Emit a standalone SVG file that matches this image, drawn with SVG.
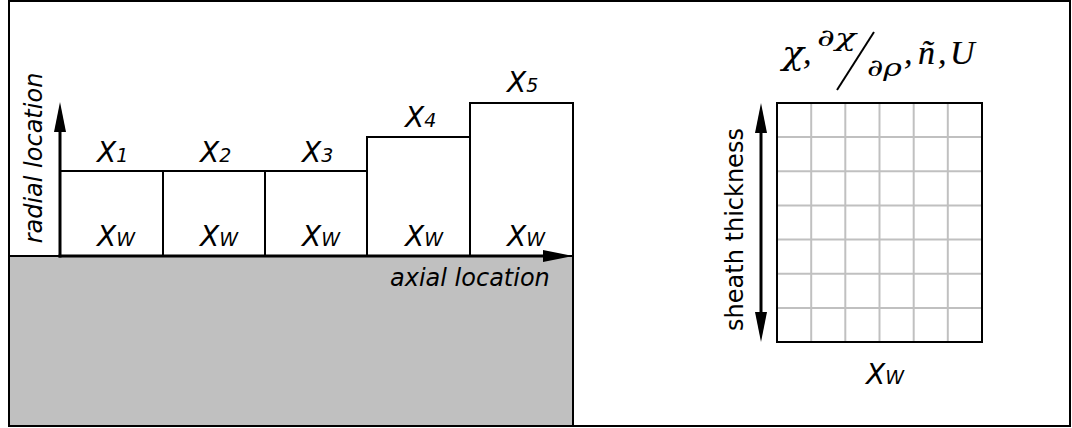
<svg xmlns="http://www.w3.org/2000/svg" width="1072" height="428" viewBox="0 0 1072 428">
<style>
.box{fill:#fff;stroke:#000;stroke-width:2}
.axis{stroke:#000;stroke-width:3;fill:none}
.grid{stroke:#c0c0c0;stroke-width:2}
.lbl{font-family:"DejaVu Sans",Verdana,sans-serif;font-size:24px;fill:#000}
.it{font-style:italic}
.x{font-size:28px}
.sub{font-size:19px}
.math{font-family:"Liberation Serif","Times New Roman",serif;font-style:italic;fill:#000;stroke:#000;stroke-width:0.2}
.gr{font-family:"DejaVu Serif","Liberation Serif",serif;font-style:italic;fill:#000}
</style>
<defs>
<marker id="ah" markerUnits="userSpaceOnUse" markerWidth="30" markerHeight="12" viewBox="0 0 30 12" refX="2" refY="6" orient="auto-start-reverse">
<path d="M0,0 L30,6 L0,12 z" fill="#000"/>
</marker>
</defs>
<rect x="9" y="1" width="1061" height="425" fill="#fff" stroke="#000" stroke-width="2"/>
<g id="ground">
<rect x="9" y="256" width="564" height="170" fill="#c0c0c0" stroke="#000" stroke-width="2"/>
</g>
<g id="box1"><rect class="box" x="60" y="171" width="103" height="85"/>
<text class="lbl it x" x="97" y="162">X<tspan class="sub">1</tspan></text>
<text class="lbl it x" x="97" y="246">X<tspan class="sub">W</tspan></text></g>
<g id="box2"><rect class="box" x="163" y="171" width="102" height="85"/>
<text class="lbl it x" x="200" y="162">X<tspan class="sub">2</tspan></text>
<text class="lbl it x" x="200" y="246">X<tspan class="sub">W</tspan></text></g>
<g id="box3"><rect class="box" x="265" y="171" width="102" height="85"/>
<text class="lbl it x" x="302" y="162">X<tspan class="sub">3</tspan></text>
<text class="lbl it x" x="302" y="246">X<tspan class="sub">W</tspan></text></g>
<g id="box4"><rect class="box" x="367" y="137" width="103" height="119"/>
<text class="lbl it x" x="405" y="127">X<tspan class="sub">4</tspan></text>
<text class="lbl it x" x="405" y="246">X<tspan class="sub">W</tspan></text></g>
<g id="box5"><rect class="box" x="470" y="103" width="103" height="153"/>
<text class="lbl it x" x="507" y="92">X<tspan class="sub">5</tspan></text>
<text class="lbl it x" x="507" y="246">X<tspan class="sub">W</tspan></text></g>
<g id="connectors">
<line class="axis" x1="60" y1="257.5" x2="60" y2="130" marker-end="url(#ah)"/>
<line class="axis" x1="58.5" y1="256" x2="545" y2="256" marker-end="url(#ah)"/>
<line class="axis" x1="761" y1="131" x2="761" y2="314" marker-start="url(#ah)" marker-end="url(#ah)"/>
</g>
<g id="axis-labels">
<text class="lbl it" transform="translate(42,158) rotate(-90)" text-anchor="middle">radial location</text>
<text class="lbl it" x="390" y="286">axial location</text>
<text class="lbl" transform="translate(743,229.5) rotate(-90)" text-anchor="middle">sheath thickness</text>
</g>
<g id="sheath-grid">
<g class="grid">
<line x1="811.2" y1="103" x2="811.2" y2="342"/>
<line x1="845.3" y1="103" x2="845.3" y2="342"/>
<line x1="879.5" y1="103" x2="879.5" y2="342"/>
<line x1="913.7" y1="103" x2="913.7" y2="342"/>
<line x1="947.8" y1="103" x2="947.8" y2="342"/>
<line x1="777" y1="137.1" x2="982" y2="137.1"/>
<line x1="777" y1="171.3" x2="982" y2="171.3"/>
<line x1="777" y1="205.4" x2="982" y2="205.4"/>
<line x1="777" y1="239.6" x2="982" y2="239.6"/>
<line x1="777" y1="273.7" x2="982" y2="273.7"/>
<line x1="777" y1="307.9" x2="982" y2="307.9"/>
</g>
<rect x="777" y="103" width="205" height="239" fill="none" stroke="#000" stroke-width="2"/>
<text class="lbl it x" x="866" y="384">X<tspan class="sub">W</tspan></text>
</g>
<g id="title">
<text class="gr" x="782" y="64" font-size="32" textLength="22" lengthAdjust="spacingAndGlyphs">χ</text>
<text class="math" x="803" y="64" font-size="34">,</text>
<text class="gr" x="817" y="46" font-size="24" textLength="39" lengthAdjust="spacingAndGlyphs">∂χ</text>
<line x1="837" y1="90" x2="874" y2="32" stroke="#000" stroke-width="2"/>
<text class="gr" x="867" y="76" font-size="24" textLength="35" lengthAdjust="spacingAndGlyphs">∂ρ</text>
<text class="math" x="904" y="64" font-size="34">,</text>
<text class="math" x="918" y="64" font-size="34">ñ</text>
<text class="math" x="938" y="64" font-size="34">,</text>
<text class="math" x="950" y="64" font-size="34">U</text>
</g>
</svg>
